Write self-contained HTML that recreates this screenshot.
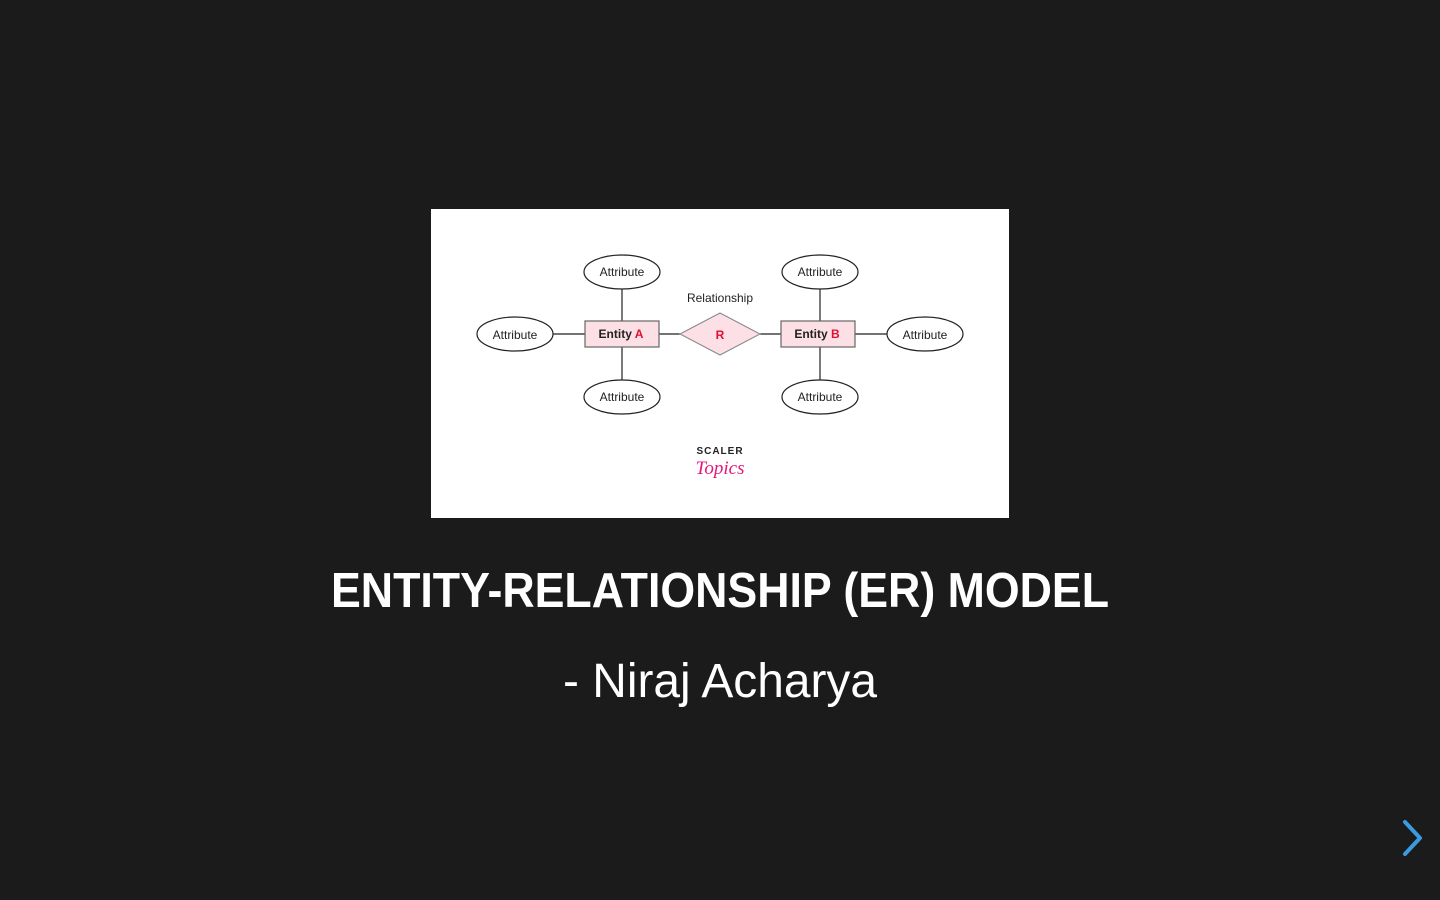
<!DOCTYPE html>
<html><head><meta charset="utf-8"><style>
html,body{margin:0;padding:0;background:#1b1b1b;width:1440px;height:900px;overflow:hidden;font-family:"Liberation Sans",sans-serif}
svg{position:absolute;left:0;top:0}
</style></head><body>
<svg width="1440" height="900" viewBox="0 0 1440 900">
<rect x="431" y="209" width="578" height="309" fill="#fff"/>
<g stroke="#222" stroke-width="1.2" fill="none">
<line x1="622" y1="289" x2="622" y2="321"/>
<line x1="622" y1="347" x2="622" y2="380"/>
<line x1="553" y1="334" x2="585" y2="334"/>
<line x1="659" y1="334" x2="680" y2="334"/>
<line x1="760" y1="334" x2="781" y2="334"/>
<line x1="820" y1="289" x2="820" y2="321"/>
<line x1="820" y1="347" x2="820" y2="380"/>
<line x1="855" y1="334" x2="887" y2="334"/>
<ellipse cx="622" cy="272" rx="38" ry="17" fill="#fff"/>
<ellipse cx="515" cy="334" rx="38" ry="17" fill="#fff"/>
<ellipse cx="622" cy="397" rx="38" ry="17" fill="#fff"/>
<ellipse cx="820" cy="272" rx="38" ry="17" fill="#fff"/>
<ellipse cx="925" cy="334" rx="38" ry="17" fill="#fff"/>
<ellipse cx="820" cy="397" rx="38" ry="17" fill="#fff"/>
</g>
<rect x="585" y="321" width="74" height="26" fill="#fde0e6" stroke="#666" stroke-width="1.2"/>
<rect x="781" y="321" width="74" height="26" fill="#fde0e6" stroke="#666" stroke-width="1.2"/>
<polygon points="680,334 720,313 760,334 720,355" fill="#fde0e6" stroke="#888" stroke-width="1"/>
<g font-size="12" fill="#222" text-anchor="middle" font-family="Liberation Sans, sans-serif">
<text x="622" y="276">Attribute</text>
<text x="515" y="339">Attribute</text>
<text x="622" y="401">Attribute</text>
<text x="820" y="276">Attribute</text>
<text x="925" y="339">Attribute</text>
<text x="820" y="401">Attribute</text>
<text x="720" y="302">Relationship</text>
<text x="621" y="338" font-weight="bold">Entity <tspan fill="#e0102f">A</tspan></text>
<text x="817" y="338" font-weight="bold">Entity <tspan fill="#e0102f">B</tspan></text>
<text x="720" y="339" font-weight="bold" fill="#e0102f">R</text>
<text x="720" y="454" font-size="10" font-weight="bold" letter-spacing="1">SCALER</text>
<text x="720" y="474" font-size="19" font-style="italic" fill="#e5177e" font-family="Liberation Serif, serif">Topics</text>
</g>
<text x="720" y="607" font-size="49" font-weight="bold" fill="#fff" text-anchor="middle" textLength="778" lengthAdjust="spacingAndGlyphs">ENTITY-RELATIONSHIP (ER) MODEL</text>
<text x="720" y="697" font-size="48" fill="#fff" text-anchor="middle" textLength="314" lengthAdjust="spacingAndGlyphs">- Niraj Acharya</text>
<polyline points="1405,822 1420,838 1405,854" fill="none" stroke="#3a9be0" stroke-width="4" stroke-linecap="round" stroke-linejoin="round"/>
</svg>
</body></html>
